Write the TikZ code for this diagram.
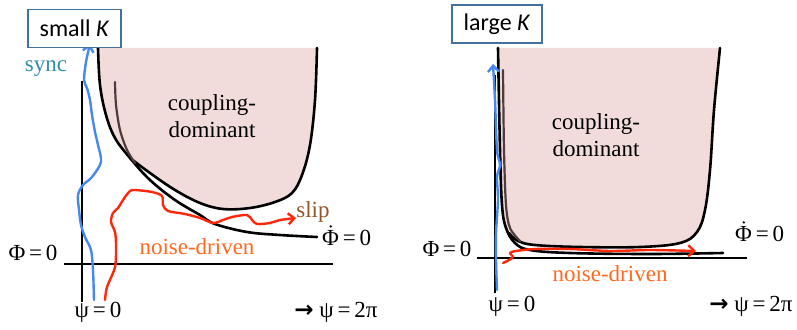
\documentclass[tikz,border=0pt]{standalone}
\usepackage{fontspec}
\setmainfont{Liberation Serif}
\newfontfamily\calibri{Carlito}
\newfontfamily\arrowfont{DejaVu Sans}
\usetikzlibrary{arrows.meta}
\definecolor{pinkfill}{RGB}{242,220,219}
\definecolor{boxblue}{RGB}{65,113,156}
\definecolor{syncblue}{RGB}{70,135,240}
\definecolor{noisered}{RGB}{255,40,10}
\definecolor{noiseorange}{RGB}{255,105,30}
\definecolor{slipbrown}{RGB}{150,85,40}
\definecolor{synctext}{RGB}{50,140,170}
\definecolor{innerbrown}{RGB}{80,60,60}
\newcommand{\rarrow}{{\arrowfont\bfseries →}}

\begin{document}
\begin{tikzpicture}[x=1pt,y=-1pt,
    lbl/.style={inner sep=0pt,font=\fontsize{23}{27}\selectfont},
    kbox/.style={draw=boxblue,line width=1.2pt,fill=white,minimum height=38pt,inner sep=0pt,font=\calibri\fontsize{24}{27}\selectfont},
    axis/.style={line width=1.3pt},
    curve/.style={line width=2.6pt,line cap=round},
    track/.style={line width=2.4pt,line join=round,line cap=round,-{Straight Barb[length=6pt,width=11pt]}},
    timedot/.style={fill=black}]
  \useasboundingbox (0,0) rectangle (797,329);

  % small K
  \fill[pinkfill] plot[smooth,tension=0.6] coordinates {(98,48)(100,85)(106,115)(115,138)(130,158)(150,173)(175,190)(200,203)(223,209)(250,208)(275,202)(292,193)(302,175)(310,145)(315,100)(317,48)} -- cycle;
  \draw[curve] plot[smooth,tension=0.6] coordinates {(130,158)(150,173)(175,190)(200,203)(223,209)(250,208)(275,202)(292,193)(302,175)(310,145)(315,100)(317,48)};
  \draw[curve] plot[smooth,tension=0.6] coordinates {(98,48)(100,85)(106,115)(115,138)(130,158)(150,180)(175,200)(200,215)(215,224)(247,232)(280,235)(317,237)};
  \draw[curve,innerbrown,line width=2.2pt] plot[smooth] coordinates {(115,82)(116,105)(120,130)(127,150)(135,163)};
  \draw[axis] (82,81) -- (82,302);
  \draw[axis] (64,264) -- (333,264);
  \draw[track,syncblue] plot[smooth,tension=0.5] coordinates {(94,300)(93,270)(91,250)(85,237)(81,225)(79,210)(78,195)(83,185)(92,177)(101,162)(98,145)(95,132)(92,115)(90,100)(87,88)(84,80)(86,62)(90,44)};
  \draw[track,noisered] plot[smooth,tension=0.5] coordinates {(105,300)(107,287)(115,267)(116,245)(115,232)(111,222)(113,213)(118,208)(125,197)(130,191)(135,190)(152,192)(162,196)(163,205)(168,211)(185,214)(200,218)(213,223)(223,220)(232,217)(247,215)(252,220)(257,224)(270,223)(280,220)(296,218)};
  \node[kbox,minimum width=93pt] at (74.5,28.5) (smallk) {small \textit{K}};
  \node[lbl,synctext] at (46,69) (synctxt) {sync};
  \node[lbl,align=center] at (212,116) (dom1) {coupling-\\dominant};
  \node[lbl,slipbrown] at (313,212) (sliptxt) {slip};
  \node[lbl,anchor=west] at (322,238) (pdot1) {Φ\,=\,0};
  \fill[timedot] ([xshift=8.8pt,yshift=3.6pt]pdot1.north west) circle (1.3pt);
  \node[lbl,noiseorange] at (197,247) (noise1) {noise-driven};
  \node[lbl] at (33,253) (phi1) {Φ\,=\,0};
  \node[lbl] at (98,312) (psi1) {ψ\,=\,0};
  \node[lbl] at (336,312) (twopi1) {\rarrow\ ψ\,=\,2π};

  % large K
  \fill[pinkfill] plot[smooth,tension=0.6] coordinates {(498,48)(499,150)(501,200)(505,225)(515,240)(530,245)(580,247)(640,247)(680,243)(697,232)(705,210)(710,170)(714,110)(720,48)} -- cycle;
  \draw[curve] plot[smooth,tension=0.6] coordinates {(509,233)(518,241)(535,245)(580,247)(640,247)(680,243)(697,232)(705,210)(710,170)(714,110)(720,48)};
  \draw[curve] plot[smooth,tension=0.6] coordinates {(498,48)(500,150)(502,205)(506,228)(515,243)(530,250)(570,253)(650,254)(723,253)};
  \draw[curve,innerbrown,line width=2.2pt] plot[smooth] coordinates {(503,70)(504,150)(506,205)(510,228)(520,241)};
  \draw[axis] (495,75) -- (495,293);
  \draw[axis] (477,258) -- (747,258);
  \draw[track,syncblue] plot[smooth,tension=0.5] coordinates {(497,290)(496,260)(496,233)(498,200)(497,177)(500,165)(497,150)(495,100)(493,64)};
  \draw[track,noisered] plot[smooth,tension=0.5] coordinates {(503,263)(509,260)(513,257)(510,253)(516,251)(535,249)(570,249)(610,251)(650,250)(696,251)};
  \node[kbox,minimum width=90pt] at (497,24) (largek) {large \textit{K}};
  \node[lbl,align=center] at (596,135) (dom2) {coupling-\\dominant};
  \node[lbl,anchor=west] at (735,234) (pdot2) {Φ\,=\,0};
  \fill[timedot] ([xshift=8.8pt,yshift=3.6pt]pdot2.north west) circle (1.3pt);
  \node[lbl] at (447,249) (phi2) {Φ\,=\,0};
  \node[lbl,noiseorange] at (610,274) (noise2) {noise-driven};
  \node[lbl] at (512,306) (psi2) {ψ\,=\,0};
  \node[lbl] at (751,306) (twopi2) {\rarrow\ ψ\,=\,2π};
\end{tikzpicture}
\end{document}
